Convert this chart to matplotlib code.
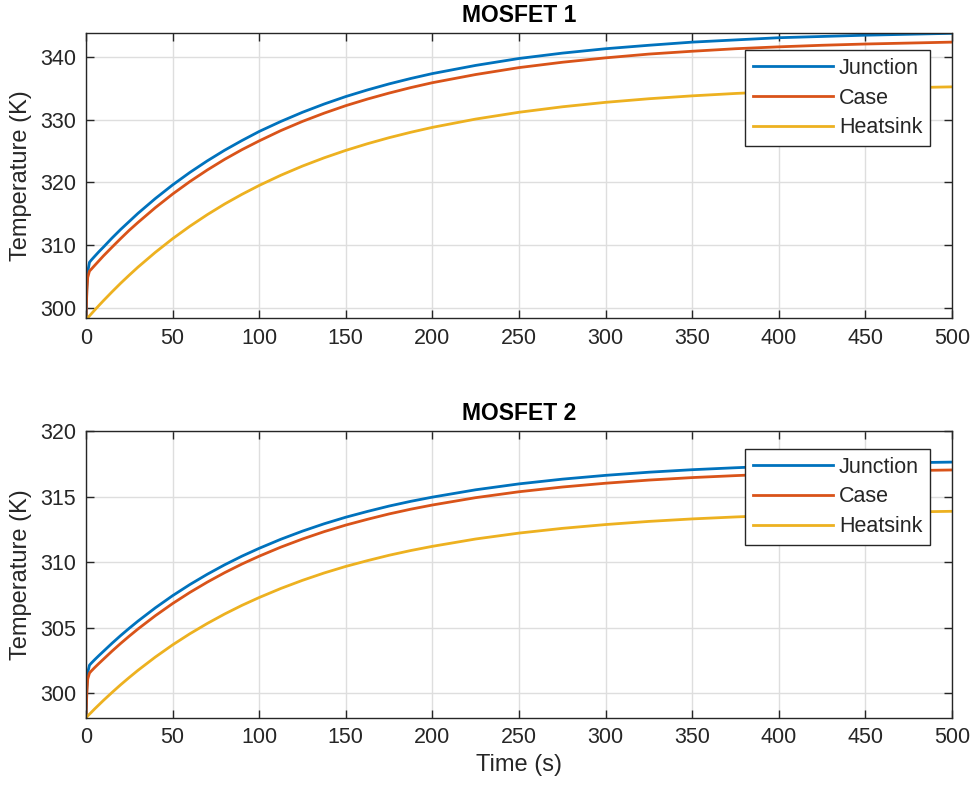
import matplotlib
matplotlib.use("Agg")
import matplotlib.pyplot as plt

plt.rcParams['font.family'] = ['Liberation Sans', 'DejaVu Sans']

# time (s)
t = [0, 0.5, 1, 2, 3, 5, 7.5, 10, 15, 20, 25, 30, 40, 50, 60, 70, 80, 90, 100,
     112.5, 125, 137.5, 150, 162.5, 175, 187.5, 200, 225, 250, 275, 300, 325, 350,
     375, 400, 425, 450, 475, 500]

# MOSFET 1 temperatures (K)
m1_junction = [298.15, 303.5, 305.8, 307.3, 307.64, 308.25, 309.0, 309.7, 311.15, 312.52,
               313.8, 315.08, 317.43, 319.6, 321.59, 323.42, 325.11, 326.65, 328.1,
               329.69, 331.15, 332.46, 333.65, 334.7, 335.66, 336.52, 337.3, 338.6,
               339.7, 340.55, 341.25, 341.8, 342.3, 342.65, 343.0, 343.2, 343.4, 343.55,
               343.7]
m1_case = [298.15, 302.8, 304.9, 305.9, 306.19, 306.8, 307.55, 308.3, 309.7, 311.07,
           312.4, 313.63, 315.98, 318.15, 320.14, 321.97, 323.66, 325.2, 326.6,
           328.24, 329.7, 331.01, 332.2, 333.25, 334.2, 335.07, 335.85, 337.15,
           338.25, 339.1, 339.8, 340.4, 340.85, 341.25, 341.55, 341.8, 342.0, 342.15,
           342.3]
m1_heatsink = [298.15, 298.31, 298.47, 298.78, 299.09, 299.7, 300.45, 301.18, 302.6,
               303.97, 305.27, 306.53, 308.88, 311.05, 313.04, 314.87, 316.56, 318.1,
               319.52, 321.14, 322.6, 323.91, 325.09, 326.15, 327.11, 327.97, 328.75,
               330.07, 331.15, 332.02, 332.73, 333.3, 333.76, 334.14, 334.45, 334.69,
               334.89, 335.06, 335.19]

# MOSFET 2 temperatures (K)
m2_junction = [298.15, 300.5, 301.6, 302.15, 302.3, 302.57, 302.89, 303.2, 303.82,
               304.41, 304.97, 305.51, 306.52, 307.45, 308.3, 309.08, 309.8, 310.46,
               311.06, 311.75, 312.37, 312.93, 313.43, 313.87, 314.28, 314.64, 314.96,
               315.52, 315.97, 316.33, 316.62, 316.86, 317.05, 317.2, 317.33, 317.43,
               317.51, 317.58, 317.63]
m2_case = [298.15, 300.1, 301.1, 301.55, 301.7, 301.97, 302.29, 302.6, 303.22, 303.81,
           304.37, 304.91, 305.92, 306.85, 307.7, 308.48, 309.2, 309.86, 310.46,
           311.15, 311.77, 312.33, 312.83, 313.27, 313.68, 314.04, 314.36, 314.92,
           315.37, 315.73, 316.02, 316.26, 316.45, 316.6, 316.73, 316.83, 316.91,
           316.98, 317.03]
m2_heatsink = [298.15, 298.22, 298.29, 298.42, 298.55, 298.82, 299.14, 299.46, 300.07,
               300.66, 301.22, 301.76, 302.77, 303.7, 304.55, 305.33, 306.05, 306.71,
               307.31, 308.0, 308.62, 309.18, 309.68, 310.12, 310.53, 310.89, 311.21,
               311.77, 312.22, 312.58, 312.87, 313.11, 313.3, 313.45, 313.58, 313.68,
               313.76, 313.83, 313.88]

series_names = ['Junction', 'Case', 'Heatsink']
titles = ['MOSFET 1', 'MOSFET 2']
colors = ['#0072BD', '#D95319', '#EDB120']
x_ticks = [0, 50, 100, 150, 200, 250, 300, 350, 400, 450, 500]
y_ticks_1 = [300, 310, 320, 330, 340]
y_ticks_2 = [300, 305, 310, 315, 320]

fig = plt.figure(figsize=(9.74, 7.96), dpi=100)
W, H = 974, 796

def make_axes(left, top, right, bottom):
    return fig.add_axes([left / W, 1 - bottom / H, (right - left) / W, (bottom - top) / H])

ax1 = make_axes(86, 33, 952, 318.3)
ax2 = make_axes(86, 431, 952, 717.7)

data = [(m1_junction, m1_case, m1_heatsink), (m2_junction, m2_case, m2_heatsink)]
ylims = [(298.4, 343.75), (298.15, 320)]
yticks = [y_ticks_1, y_ticks_2]
legend_tops = [0.939, 0.936]

edge = '#262626'
for i, ax in enumerate([ax1, ax2]):
    for vals, name, c in zip(data[i], series_names, colors):
        ax.plot(t, vals, color=c, lw=2.0, label=name)
    ax.set_xlim(0, 500)
    ax.set_ylim(*ylims[i])
    ax.set_xticks(x_ticks)
    ax.set_yticks(yticks[i])
    ax.grid(True, color='#dedede', linewidth=1.0)
    ax.set_axisbelow(True)
    for s in ax.spines.values():
        s.set_color(edge)
        s.set_linewidth(1.0)
    ax.tick_params(direction='in', length=6, width=1.0, colors=edge,
                   labelsize=15.5, top=True, right=True, pad=7)
    ax.set_ylabel('Temperature (K)', fontsize=17, color=edge, labelpad=6)
    ax.set_title(titles[i], fontsize=16.5, fontweight='bold', color='black', pad=8)
    leg = ax.legend(loc='upper right', bbox_to_anchor=(0.9746, legend_tops[i]),
                    fontsize=15.5, fancybox=False, framealpha=1, edgecolor=edge,
                    handlelength=3.7, handletextpad=0.3, labelspacing=0.4,
                    borderpad=0.35, borderaxespad=0)
    leg.get_frame().set_linewidth(1.0)
    for txt in leg.get_texts():
        txt.set_color(edge)

ax2.set_xlabel('Time (s)', fontsize=17, color=edge, labelpad=4)

fig.savefig('out.png', dpi=100, facecolor='white')
